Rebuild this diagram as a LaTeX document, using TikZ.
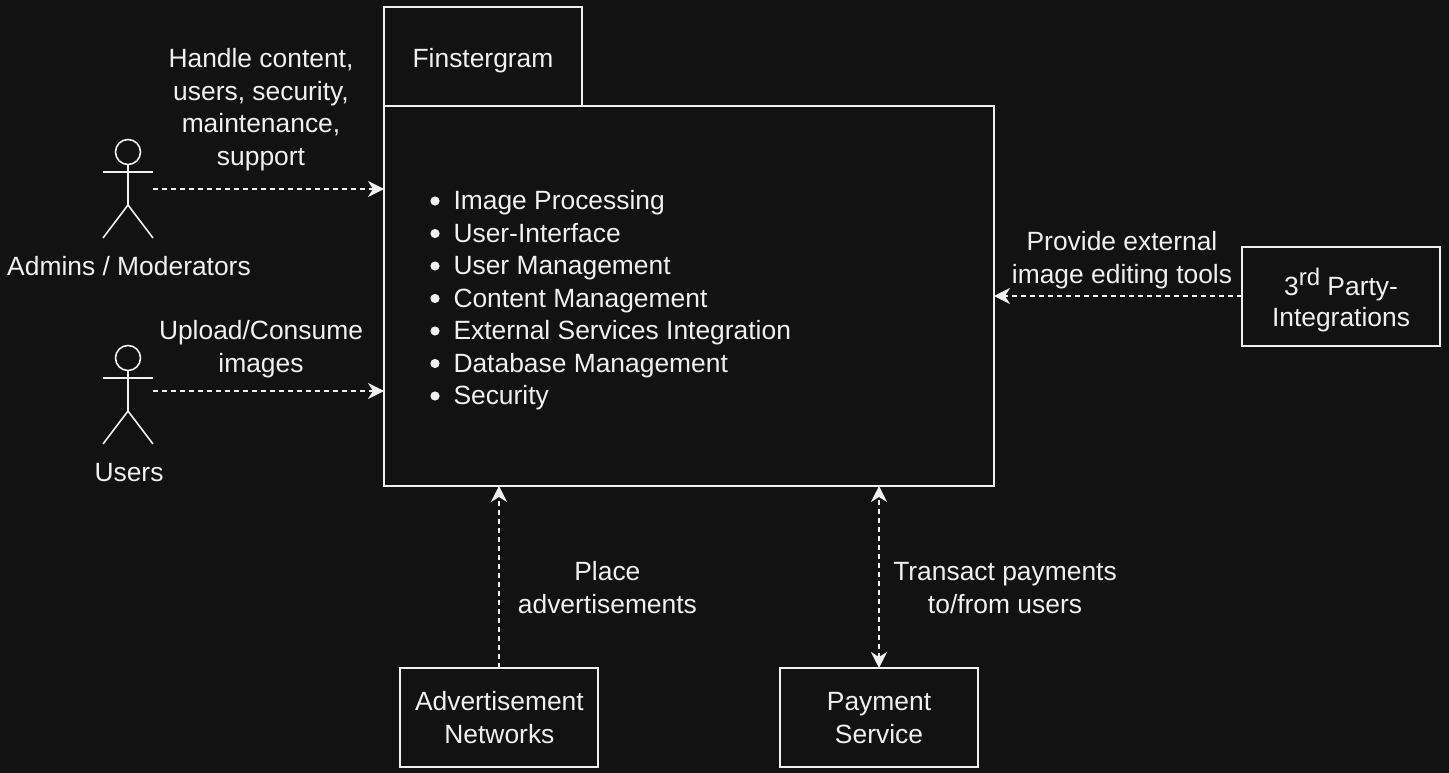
\documentclass[tikz,border=0pt]{standalone}
\usepackage{fontspec}
\setmainfont{Liberation Sans}
\usetikzlibrary{arrows.meta,calc}
\definecolor{bgc}{HTML}{121212}
\definecolor{fgc}{HTML}{F0F0F0}
\tikzset{
  every node/.style={text=fgc,font=\fontsize{26.4}{32.5}\selectfont,inner sep=0pt,outer sep=0pt},
  boxn/.style={draw=fgc,line width=1.6pt,fill=bgc,minimum width=198pt,minimum height=99pt,align=center},
  lbl/.style={align=center},
  conn/.style={draw=fgc,line width=1.5pt,dash pattern=on 5pt off 4pt,-{Stealth[length=16pt,width=16pt,inset=5pt]}},
  connb/.style={conn,{Stealth[length=16pt,width=16pt,inset=5pt]}-{Stealth[length=16pt,width=16pt,inset=5pt]}},
  stick/.style={draw=fgc,line width=1.6pt},
  actorbox/.style={minimum width=50pt,minimum height=99pt},
  bulletdot/.style={fill=fgc}
}
\newcommand{\actorfig}[1]{%
  \draw[stick] ($(#1.north)+(0,13)$) circle (12.5pt);
  \draw[stick] ($(#1.north)+(0,25.5)$) -- ($(#1.north)+(0,66)$);
  \draw[stick] ($(#1.north west)+(0,33.2)$) -- ($(#1.north east)+(0,33.2)$);
  \draw[stick] (#1.south west) -- ($(#1.north)+(0,66)$) -- (#1.south east);
}
\begin{document}
\begin{tikzpicture}[x=1pt,y=-1pt]
\fill[bgc] (0,0) rectangle (1449,773);
\useasboundingbox (0,0) rectangle (1449,773);

\node[boxn,minimum width=198pt,minimum height=99pt] (tab) at (483,56.5) {};
\node[draw=fgc,line width=1.6pt,minimum width=610pt,minimum height=380pt] (main) at (689,296) {};
\node (tabt) at (483,61) {Finstergram};

\node[anchor=north west,align=left] (list) at (453.5,190.5) {%
Image Processing\\
User-Interface\\
User Management\\
Content Management\\
External Services Integration\\
Database Management\\
Security};
\foreach \k in {0,...,6} {
  \fill[bulletdot] (435,{201+32.5*\k}) circle (4.6pt);
}

\node[actorbox] (admin) at (128,188.5) {};
\actorfig{admin}
\node (admint) at (129,266) {Admins / Moderators};
\node[actorbox] (user) at (128,394.5) {};
\actorfig{user}
\node (usert) at (129,472.5) {Users};

\node[boxn] (ext) at (1341,296.5) {};
\node[lbl] (extt) at (1341,304.5) {3\raisebox{10pt}[0pt][0pt]{\fontsize{24}{24}\selectfont rd} Party-\\[-2pt]Integrations};
\node[boxn] (ad) at (499,717.5) {};
\node[lbl] (adt) at (499.4,717.6) {Advertisement\\Networks};
\node[boxn] (pay) at (879,717.5) {};
\node[lbl] (payt) at (879,718) {Payment\\Service};

\node[lbl] (l1) at (261,109.5) {Handle content,\\users, security,\\maintenance,\\support};
\node[lbl] (l2) at (261,349) {Upload/Consume\\images};
\node[lbl] (l3) at (1122,260) {Provide external\\image editing tools};
\node[lbl] (l4) at (607.4,587.5) {Place\\advertisements};
\node[lbl] (l5) at (1005,588) {Transact payments\\to/from users};

\coordinate (aout) at ($(admin.east)+(0,0.5)$);
\coordinate (uout) at ($(user.east)+(0,-3.5)$);
\coordinate (eout) at ($(ext.west)+(0,-0.5)$);
\draw[conn] (aout) -- (aout -| main.west);
\draw[conn] (uout) -- (uout -| main.west);
\draw[conn] (eout) -- (eout -| main.east);
\draw[conn] (ad.north) -- (ad.north |- main.south);
\draw[connb] (pay.north) -- (pay.north |- main.south);
\end{tikzpicture}
\end{document}
